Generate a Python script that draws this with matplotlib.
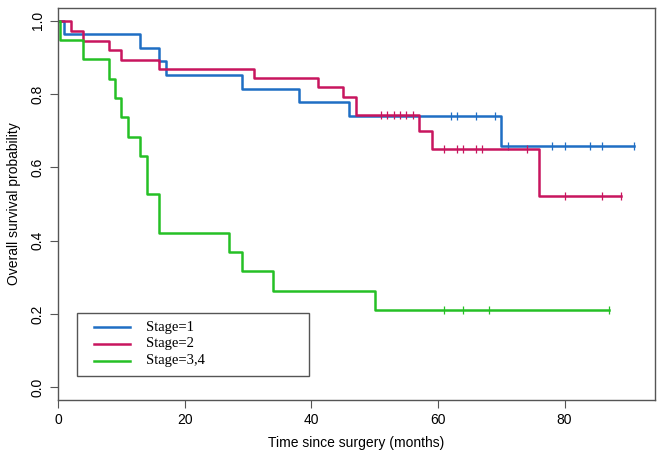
import matplotlib
matplotlib.use("Agg")
from matplotlib import pyplot as plt
from matplotlib.patches import Rectangle

# Kaplan-Meier steps
t1 = [0, 1, 13, 16, 17, 29, 38, 46, 70, 91]
s1 = [1.0, 0.963, 0.926, 0.889, 0.852, 0.815, 0.778, 0.741, 0.658, 0.658]
c1 = [62, 63, 66, 69, 71, 78, 80, 84, 86, 91]

t2 = [0, 2, 4, 8, 10, 16, 31, 41, 45, 47, 57, 59, 76, 89]
s2 = [1.0, 0.972, 0.946, 0.920, 0.894, 0.868, 0.843, 0.818, 0.793, 0.742, 0.699, 0.651, 0.522, 0.522]
c2 = [51, 52, 53, 54, 55, 56, 61, 63, 64, 66, 67, 74, 80, 86, 89]

t3 = [0, 0.3, 4, 8, 9, 10, 11, 13, 14, 16, 27, 29, 34, 50, 87]
s3 = [1.0, 0.947, 0.895, 0.842, 0.789, 0.737, 0.684, 0.632, 0.526, 0.421, 0.368, 0.316, 0.263, 0.211, 0.211]
c3 = [61, 64, 68, 87]

labels = ["Stage=1", "Stage=2", "Stage=3,4"]
colors = ["#1F6EC4", "#C8155E", "#25C025"]

plt.rcParams['font.family'] = ['Liberation Sans', 'DejaVu Sans']


def level_at(t, s, x):
    v = s[0]
    for ti, si in zip(t, s):
        if ti <= x:
            v = si
    return v


fig = plt.figure(figsize=(6.61, 4.67), dpi=100)
ax = fig.add_axes([0.0877, 0.1435, 0.9033, 0.8395])

for t, s, c, col in [(t1, s1, c1, colors[0]), (t2, s2, c2, colors[1]), (t3, s3, c3, colors[2])]:
    ax.plot(t, s, drawstyle="steps-post", color=col, lw=1.8)
    ax.plot(c, [level_at(t, s, x) for x in c], ls="none", marker="|",
            ms=6, mew=0.9, color=col)

ax.set_xlim(0, 94.3)
ax.set_ylim(-0.035, 1.035)
ax.set_xticks([0, 20, 40, 60, 80])
ax.set_yticks([0.0, 0.2, 0.4, 0.6, 0.8, 1.0])
ax.set_yticklabels(["0.0", "0.2", "0.4", "0.6", "0.8", "1.0"], rotation=90, va="center")
ax.tick_params(direction="out", length=6, width=0.8, colors="#555555", labelcolor="black",
               labelsize=10)
for sp in ax.spines.values():
    sp.set_color("#555555")
    sp.set_linewidth(1.0)

ax.set_xlabel("Time since surgery (months)", fontsize=10, labelpad=6)
ax.set_ylabel("Overall survival probability", fontsize=10, labelpad=7)

# legend box drawn by hand, R style
ax.add_patch(Rectangle((0.032, 0.061), 0.388, 0.161, transform=ax.transAxes,
                       fill=False, edgecolor="#555555", lw=1.0))
rows = [0.186, 0.143, 0.0995]
for lab, col, y in zip(labels, colors, rows):
    ax.plot([0.0603, 0.1206], [y, y], transform=ax.transAxes, color=col, lw=1.8)
    ax.text(0.147, y, lab, transform=ax.transAxes, va="center", ha="left",
            fontsize=10.5, family="Liberation Serif")

fig.savefig("out.png", dpi=100)
